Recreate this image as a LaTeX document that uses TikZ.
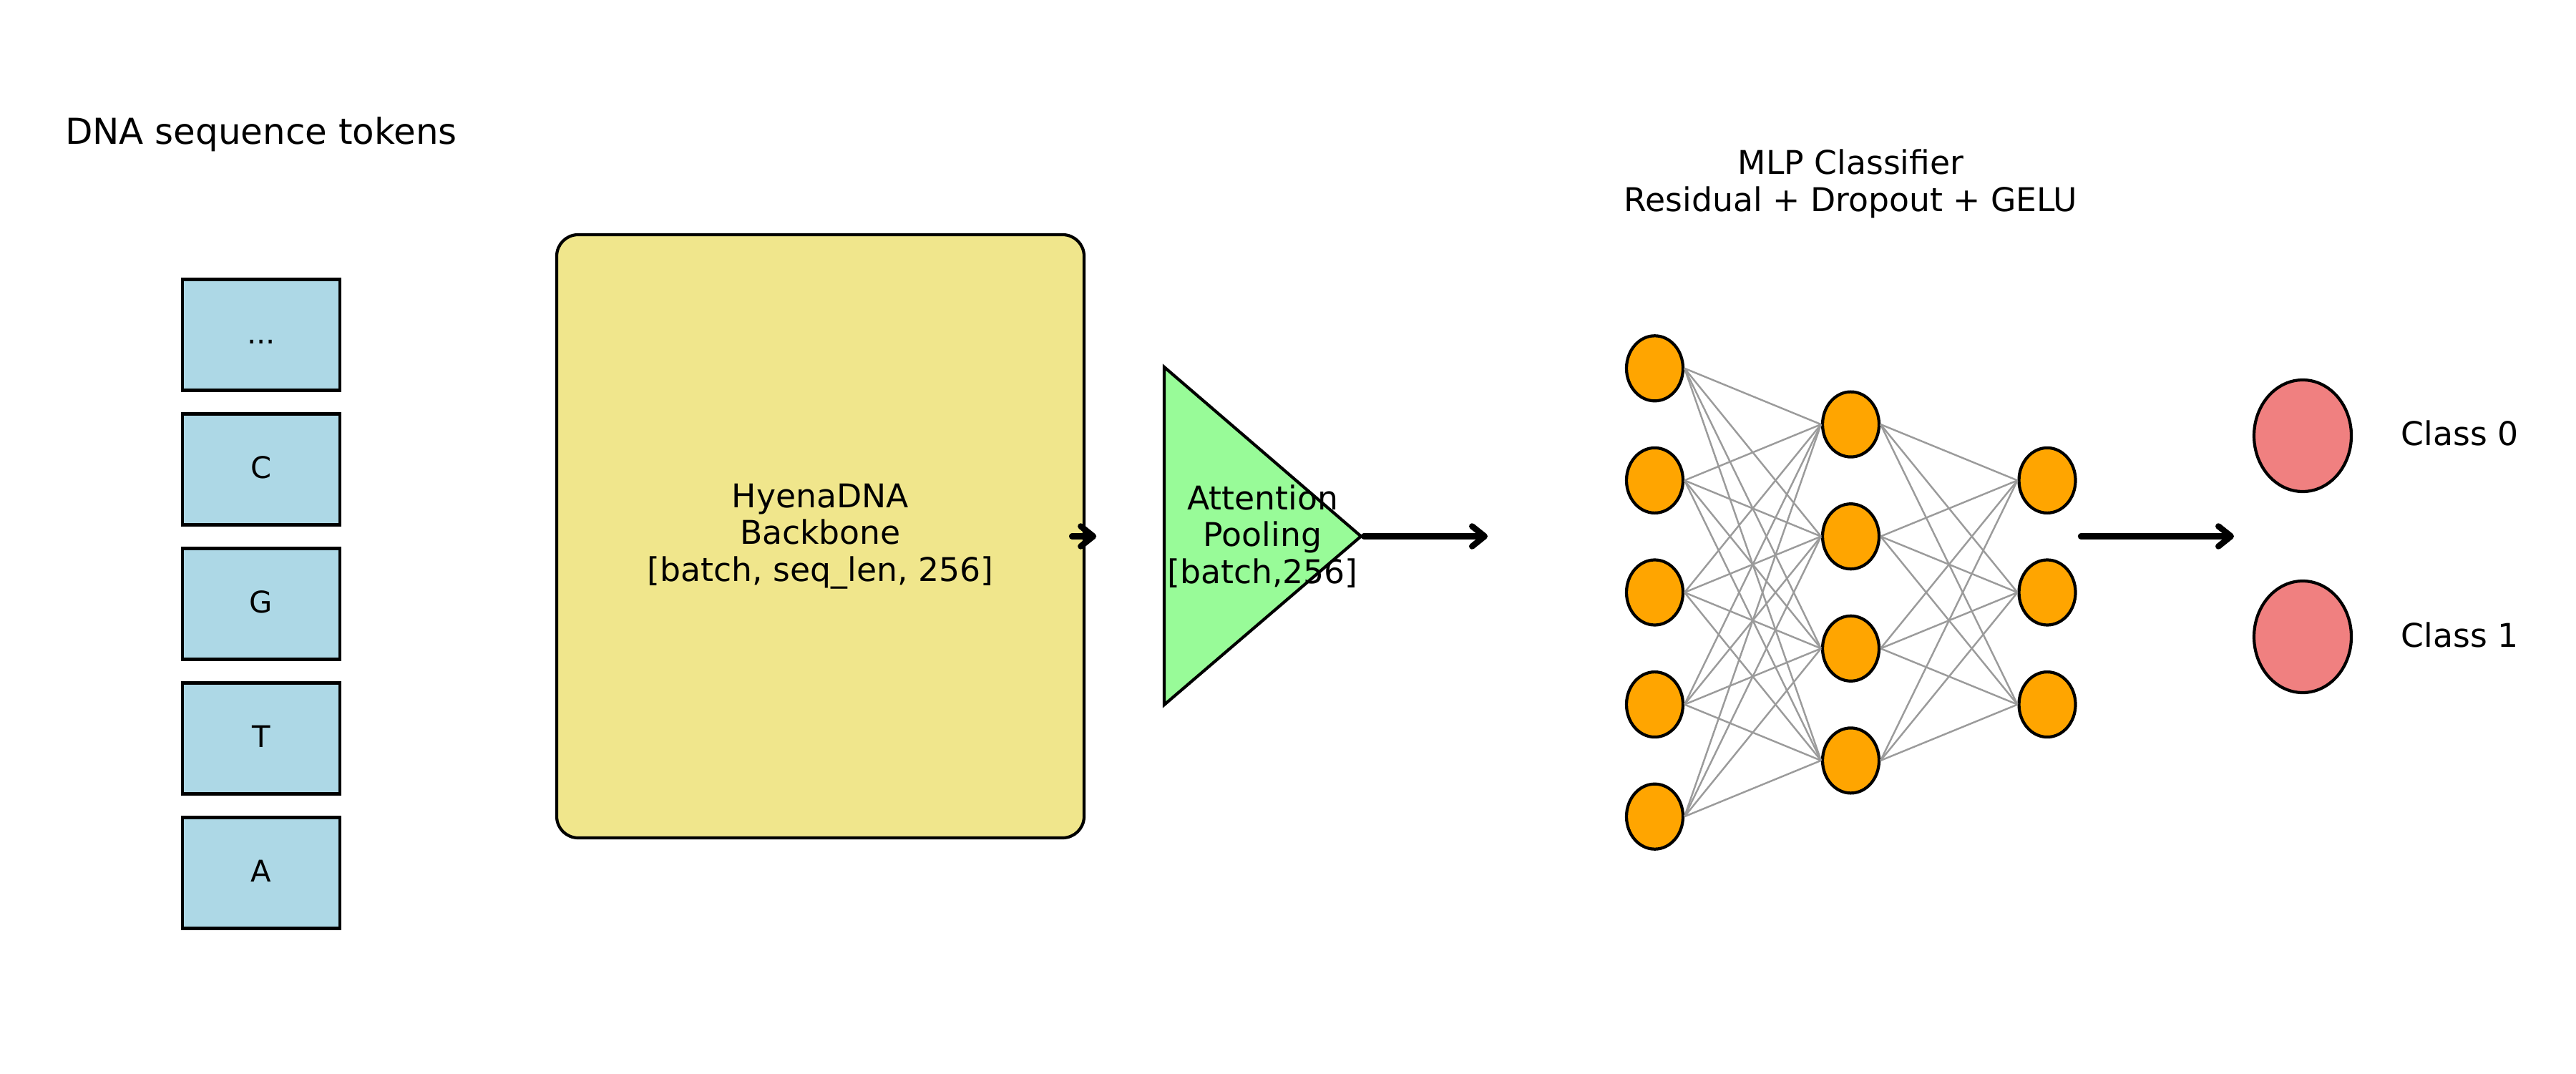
\documentclass[tikz,border=0pt]{standalone}
\usepackage{fontspec}
\setmainfont{DejaVu Sans}
\usepackage{tikz}
\usetikzlibrary{shapes.geometric, arrows.meta, positioning}
\usepackage{xcolor}
\definecolor{tokenblue}{HTML}{ADD8E6}
\definecolor{backbonekhaki}{HTML}{F0E68C}
\definecolor{poolgreen}{HTML}{98FB98}
\definecolor{neuronorange}{HTML}{FFA500}
\definecolor{classred}{HTML}{F08080}
\definecolor{edgegray}{RGB}{155,155,155}

\begin{document}
\begin{tikzpicture}[
    lbl/.style={font=\fontsize{13}{14.7}\selectfont, align=center, inner sep=0pt},
    token/.style={draw, line width=1.2pt, fill=tokenblue, minimum width=2.2cm, minimum height=1.55cm,
        inner sep=0pt, text height=0.73em, text depth=0pt, font=\fontsize{11.85}{14}\selectfont},
    neuron/.style={ellipse, draw, line width=1.2pt, fill=neuronorange, minimum width=0.79cm,
        minimum height=0.91cm, inner sep=0pt},
    outcls/.style={ellipse, draw, line width=1.2pt, fill=classred, minimum width=1.36cm,
        minimum height=1.56cm, inner sep=0pt},
    wire/.style={edgegray, line width=0.7pt},
    flow/.style={line width=2.4pt, line cap=round, -{Straight Barb[length=5pt, width=8pt, round]}}
]
    \useasboundingbox (0,0) rectangle (36,15);

    % input tokens
    \node[lbl, font=\fontsize{14.2}{17}\selectfont, anchor=base] (title) at (3.65,12.98) {DNA sequence tokens};
    \foreach \t [count=\i from 0] in {A,T,G,C}
        \node[token] (tok\i) at (3.65,2.80+1.88*\i) {\t};
    \node[token] (tok4) at (3.65,10.32) {...};

    % backbone
    \node[lbl, draw, line width=1.2pt, fill=backbonekhaki, rounded corners=0.3cm, minimum width=7.37cm,
        minimum height=8.43cm] (backbone) at (11.465,7.505) {HyenaDNA\\Backbone\\{[batch, seq\_len, 256]}};

    % attention pooling
    \coordinate (pooltop) at (16.27,9.87);
    \coordinate (poolbot) at (16.27,5.15);
    \coordinate (pooltip) at (19.02,7.505);
    \draw[line width=1.2pt, fill=poolgreen] (pooltop) -- (pooltip) -- (poolbot) -- cycle;
    \node[lbl] (pool) at (17.645,7.505) {Attention\\Pooling\\{[batch,256]}};
    \draw[flow] ([xshift=-0.19cm]backbone.east) -- ([xshift=0.15cm]backbone.east);

    \coordinate (mlpin) at (20.79,7.505);
    \draw[flow] ([xshift=0.04cm]pooltip) -- (mlpin);

    % MLP
    \node[lbl] (mlptitle) at (25.865,12.43) {MLP Classifier\\Residual + Dropout + GELU};
    \foreach \i in {1,...,5}
        \node[neuron] (a\i) at (23.125,{6.72+(3-\i)*1.566}) {};
    \foreach \i in {1,...,4}
        \node[neuron] (b\i) at (25.865,{6.72+(2.5-\i)*1.566}) {};
    \foreach \i in {1,...,3}
        \node[neuron] (c\i) at (28.61,{6.72+(2-\i)*1.566}) {};
    \foreach \i in {1,...,5}
        \foreach \j in {1,...,4}
            \draw[wire] (a\i.east) -- (b\j.west);
    \foreach \i in {1,...,4}
        \foreach \j in {1,...,3}
            \draw[wire] (b\i.east) -- (c\j.west);

    \coordinate (mlpout) at (29.08,7.505);
    \coordinate (clsin) at (31.22,7.505);
    \draw[flow] (mlpout) -- (clsin);

    % output classes
    \node[outcls] (cls0) at (32.18,8.91) {};
    \node[outcls] (cls1) at (32.18,6.10) {};
    \node[lbl, anchor=base west] (cls0lab) at (33.55,8.78) {Class 0};
    \node[lbl, anchor=base west] (cls1lab) at (33.55,5.96) {Class 1};
\end{tikzpicture}
\end{document}
